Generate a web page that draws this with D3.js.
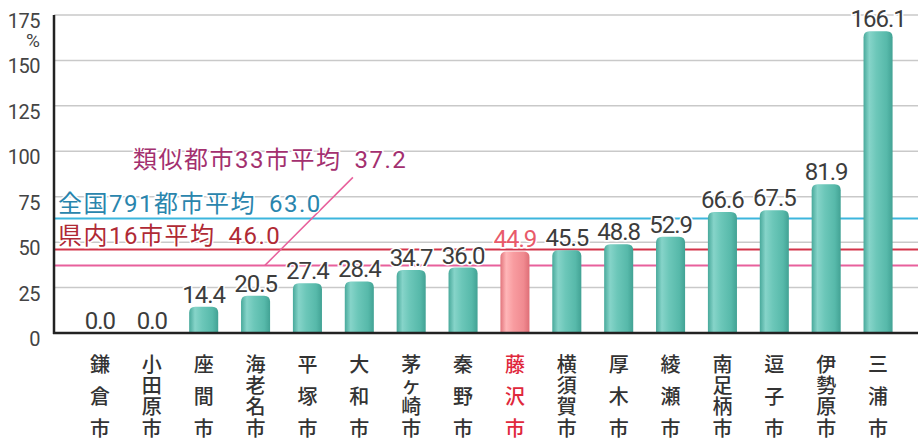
<!DOCTYPE html>
<html>
<head>
<meta charset="utf-8">
<script src="https://cdn.jsdelivr.net/npm/d3@7"></script>
<style>
  body { margin: 0; background: #fff; }
  svg { display: block; }
</style>
</head>
<body>
<div id="chart"></div>
<script>
// data
const cities = ['鎌倉市', '小田原市', '座間市', '海老名市', '平塚市', '大和市', '茅ヶ崎市', '秦野市',
                '藤沢市', '横須賀市', '厚木市', '綾瀬市', '南足柄市', '逗子市', '伊勢原市', '三浦市'];
const values = [0.0, 0.0, 14.4, 20.5, 27.4, 28.4, 34.7, 36.0, 44.9, 45.5, 48.8, 52.9, 66.6, 67.5, 81.9, 166.1];
const highlight = '藤沢市';
const yTicks = [0, 25, 50, 75, 100, 125, 150, 175];
const avgNames = ['類似都市33市平均', '全国791都市平均', '県内16市平均'];
const avgValues = [37.2, 63.0, 46.0];

const width = 918, height = 440;
const svg = d3.select('#chart').append('svg')
    .attr('width', width).attr('height', height);

const x = d3.scaleBand().domain(cities).range([74, 904])
    .paddingInner(0.44).paddingOuter(0.22);
const y = d3.scaleLinear().domain([0, 175]).range([333, 15]);

const defs = svg.append('defs');
function cylGrad(id, stops) {
    const g = defs.append('linearGradient').attr('id', id)
        .attr('x1', '0%').attr('x2', '100%').attr('y1', '0%').attr('y2', '0%');
    stops.forEach(s => g.append('stop').attr('offset', s[0]).attr('stop-color', s[1]));
}
cylGrad('teal', [['0%', '#48a99b'], ['20%', '#86d4c9'], ['45%', '#6cc7b9'], ['80%', '#57b9aa'], ['100%', '#42a294']]);
cylGrad('pink', [['0%', '#e2747b'], ['20%', '#ffb6b8'], ['45%', '#f89ca0'], ['80%', '#f08a90'], ['100%', '#de6e76']]);

// gridlines
svg.append('g').selectAll('line')
    .data(yTicks.filter(d => d > 0))
    .enter().append('line')
    .attr('x1', 54).attr('x2', width)
    .attr('y1', d => y(d)).attr('y2', d => y(d))
    .attr('stroke', '#c9c9c9').attr('stroke-width', 1.5);

// tick labels
svg.append('g').selectAll('text')
    .data(yTicks)
    .enter().append('text')
    .attr('x', 40).attr('y', d => y(d) + 13)
    .attr('text-anchor', 'end')
    .attr('font-family', 'Roboto, sans-serif')
    .attr('font-size', 20)
    .attr('letter-spacing', -0.5)
    .attr('fill', '#444')
    .text(d => d);
svg.append('text')
    .attr('x', 40).attr('y', y(175) + 32)
    .attr('text-anchor', 'end')
    .attr('font-family', 'Roboto, sans-serif')
    .attr('font-size', 19)
    .attr('fill', '#444')
    .text('%');

// average lines
const avgColors = ['#e8609c', '#3cb6dd', '#d3344a'];
const avgTextColors = ['#a3306f', '#2a85ad', '#b02a35'];
svg.append('g').selectAll('line')
    .data(avgValues)
    .enter().append('line')
    .attr('x1', 55).attr('x2', width)
    .attr('y1', d => y(d)).attr('y2', d => y(d))
    .attr('stroke', (d, i) => avgColors[i]).attr('stroke-width', 2);

// leader for the 類似都市 label
const leadX = x('平塚市') - 28;
svg.append('line')
    .attr('x1', leadX).attr('y1', y(avgValues[0]))
    .attr('x2', leadX + 88).attr('y2', y(avgValues[0]) - 88)
    .attr('stroke', avgColors[0]).attr('stroke-width', 1.5);

// average labels
const avgLabelPos = [[133, y(avgValues[0]) - 97], [58, y(avgValues[1]) - 7], [58, y(avgValues[2]) - 5]];
avgNames.forEach((name, i) => {
    const t = svg.append('text')
        .attr('x', avgLabelPos[i][0]).attr('y', avgLabelPos[i][1])
        .attr('font-family', 'Roboto, "Noto Sans CJK JP", sans-serif')
        .attr('font-size', 24)
        .attr('letter-spacing', 1.5)
        .attr('fill', avgTextColors[i])
        .attr('stroke', '#fff').attr('stroke-width', 3)
        .attr('paint-order', 'stroke');
    t.append('tspan').text(name);
    t.append('tspan').attr('dx', 13).text(avgValues[i].toFixed(1));
});

// bars
function barPath(d) {
    const x0 = x(d.city), x1 = x0 + x.bandwidth();
    const t = y(d.value), b = y(0), r = 6;
    if (b - t < 1) return '';
    const tt = Math.min(t + r, b);
    return `M${x0},${b}V${tt}Q${x0},${t} ${x0 + r},${t}H${x1 - r}Q${x1},${t} ${x1},${tt}V${b}Z`;
}
const data = cities.map((c, i) => ({ city: c, value: values[i] }));
svg.append('g').selectAll('path')
    .data(data)
    .enter().append('path')
    .attr('d', barPath)
    .attr('fill', d => d.city === highlight ? 'url(#pink)' : 'url(#teal)');

// value labels
svg.append('g').selectAll('text')
    .data(data)
    .enter().append('text')
    .attr('x', d => x(d.city) + x.bandwidth() / 2)
    .attr('y', d => y(d.value) - 4)
    .attr('text-anchor', 'middle')
    .attr('font-family', 'Roboto, sans-serif')
    .attr('font-size', 24)
    .attr('letter-spacing', -1)
    .attr('fill', d => d.city === highlight ? '#e85a6a' : '#3c3c3c')
    .attr('stroke', '#fff').attr('stroke-width', 3)
    .attr('paint-order', 'stroke')
    .text(d => d.value.toFixed(1));

// axes lines
svg.append('line')
    .attr('x1', 54).attr('x2', 54).attr('y1', y(175)).attr('y2', y(0) + 1)
    .attr('stroke', '#222').attr('stroke-width', 2.5);
svg.append('line')
    .attr('x1', 53).attr('x2', width).attr('y1', y(0)).attr('y2', y(0))
    .attr('stroke', '#222').attr('stroke-width', 2.5);

// vertical city names
const nameTop = 363, nameBottom = 427;
const names = svg.append('g').selectAll('g')
    .data(cities)
    .enter().append('g');
names.each(function (c) {
    const chars = Array.from(c);
    const step = (nameBottom - nameTop) / (chars.length - 1);
    d3.select(this).selectAll('text')
        .data(chars)
        .enter().append('text')
        .attr('x', x(c) + x.bandwidth() / 2)
        .attr('y', (d, i) => nameTop + i * step)
        .attr('text-anchor', 'middle')
        .attr('dominant-baseline', 'central')
        .attr('font-family', '"Noto Sans CJK JP", sans-serif')
        .attr('font-size', 20)
        .attr('font-weight', 500)
        .attr('fill', c === highlight ? '#e0283c' : '#333')
        .text(d => d);
});
</script>
</body>
</html>
